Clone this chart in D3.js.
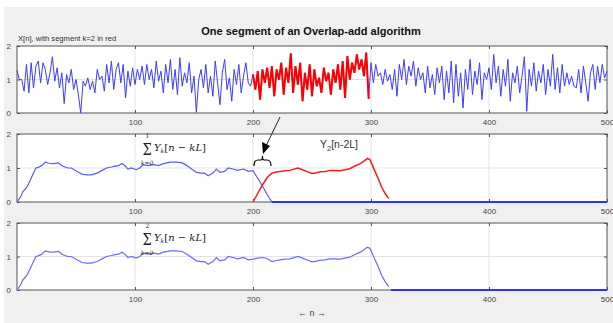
<!DOCTYPE html>
<html>
<head>
<meta charset="utf-8">
<script src="https://cdn.jsdelivr.net/npm/d3@7"></script>
<style>
  body { margin: 0; background: #fff; }
  svg { display: block; font-family: "Liberation Sans", Arial, sans-serif; }
</style>
</head>
<body>
<div id="chart"></div>
<script>
// input signal x[n], sampled every 2nd n (0..500)
const xStep = 2
const xValues = [
  1.28, 1.0, 1.0, 0.65, 1.45, 0.6, 1.5, 0.75, 1.4, 1.55,
  0.9, 1.5, 1.3, 0.85, 1.2, 1.68, 0.95, 1.35, 0.75, 1.2,
  0.28, 1.15, 0.9, 1.3, 0.7, 1.0, 0.55, 0.0, 0.95, 0.8,
  1.05, 0.7, 0.95, 0.6, 1.3, 1.0, 1.1, 0.65, 1.45, 0.9,
  1.55, 0.7, 1.3, 1.5, 0.9, 1.45, 0.45, 1.25, 0.8, 1.35,
  0.85, 1.3, 1.0, 1.4, 0.85, 1.45, 1.0, 1.3, 0.75, 1.55,
  0.95, 1.25, 0.6, 1.45, 0.9, 1.6, 0.7, 1.3, 0.55, 1.65,
  0.8, 1.2, 0.9, 1.5, 0.6, 1.1, 0.02, 1.0, 1.3, 0.75,
  1.45, 0.6, 1.1, 0.5, 1.55, 0.9, 0.25, 1.2, 1.6, 0.7,
  1.05, 0.35, 1.3, 0.85, 1.45, 0.6, 1.1, 1.5, 0.9, 0.8,
  1.15, 0.7, 1.25, 0.4, 1.3, 0.9, 1.35, 0.75, 1.4, 0.5,
  1.3, 1.0, 1.5, 0.55, 1.35, 0.9, 1.78, 0.6, 1.4, 0.85,
  1.5, 0.35, 1.2, 0.7, 1.45, 0.5, 1.3, 0.8, 1.05, 0.6,
  1.35, 0.95, 1.2, 0.55, 1.3, 0.9, 1.45, 0.7, 1.55, 0.45,
  1.7, 1.0, 1.5, 1.2, 1.75, 1.3, 1.6, 1.1, 1.8, 0.42,
  1.5, 0.9, 1.45, 1.1, 1.2, 0.85, 1.3, 0.95, 1.15, 0.7,
  1.3, 0.5, 1.45, 1.0, 1.6, 0.85, 1.4, 1.1, 1.55, 0.8,
  1.35, 1.0, 1.2, 0.6, 1.4, 0.75, 1.15, 0.55, 1.35, 0.9,
  1.4, 0.4, 1.25, 0.6, 1.55, 0.3, 1.45, 0.5, 1.2, 0.15,
  1.3, 0.7, 1.6, 0.55, 1.25, 0.85, 1.5, 0.4, 1.2, 1.0,
  1.35, 0.7, 1.75, 0.9, 1.4, 0.5, 1.3, 0.8, 1.6, 0.35,
  1.2, 0.9, 1.4, 0.6, 1.1, 1.68, 0.05, 1.3, 0.8, 1.5,
  0.65, 1.25, 0.9, 1.45, 0.55, 1.3, 0.8, 1.75, 0.7, 1.35,
  0.6, 1.45, 0.8, 1.2, 0.85, 1.1, 0.8, 0.75, 1.3, 0.6,
  1.4, 0.9, 0.35, 1.2, 1.45, 0.7, 1.4, 0.9, 1.45, 1.05,
  1.25
]
const segStart = 200
const segEnd = 298

// sum of Y_k[n-kL] for k = 0..1
const sum01N = [0, 3, 5, 8, 10, 12, 14, 16, 18, 21, 24, 27, 31, 35, 39, 43, 46, 51, 55, 59,
  63, 68, 72, 76, 80, 82, 86, 89, 92, 94, 97, 101, 104, 107, 111, 116, 120, 124, 130, 135,
  140, 144, 148, 152, 156, 159, 162, 166, 169, 172, 176, 179, 183, 187, 192, 196, 200, 204, 208, 212, 216]
const sum01 = [0, 0.15, 0.3, 0.42, 0.55, 0.7, 0.85, 1.0, 1.02, 1.07, 1.17, 1.14, 1.13, 1.15, 1.05, 1.0, 1.0, 0.9, 0.82, 0.8,
  0.8, 0.85, 0.93, 1.0, 1.03, 1.05, 1.07, 1.13, 1.05, 0.97, 1.0, 0.95, 1.0, 1.1, 1.07, 1.1, 1.07, 1.13, 1.17, 1.17,
  1.15, 1.07, 0.97, 0.87, 0.85, 0.85, 0.77, 0.85, 0.97, 0.87, 0.9, 1.0, 0.97, 0.93, 0.97, 0.9, 0.92, 0.7, 0.47, 0.22, 0]
const tail2N = [216, 500]
const tail2 = [0, 0]

// Y_2[n-2L]
const y2N = [200, 204, 208, 212, 216, 220, 223, 227, 231, 234, 238, 242, 247, 250, 254, 257, 261, 265, 269, 274,
  278, 282, 286, 291, 294, 297, 299, 301, 303, 306, 309, 312, 315]
const y2 = [0, 0.25, 0.5, 0.72, 0.85, 0.88, 0.9, 0.92, 0.93, 0.96, 1.0, 0.95, 0.88, 0.84, 0.86, 0.89, 0.9, 0.93, 0.93, 0.92,
  0.95, 0.98, 1.05, 1.13, 1.2, 1.28, 1.25, 1.1, 0.93, 0.7, 0.44, 0.25, 0.1]

// sum for k = 0..2
const sum012N = sum01N.slice(0, 57).concat([204, 208, 212]).concat(y2N.slice(4))
const sum012 = sum01.slice(0, 57).concat([0.95, 0.97, 0.94]).concat(y2.slice(4))
const tail3N = [317, 500]
const tail3 = [0, 0]

const xTicks = [100, 200, 300, 400, 500]
const yTicks = [0, 1, 2]

const W = 613, H = 323
const svg = d3.select("#chart").append("svg").attr("width", W).attr("height", H)
svg.append("rect").attr("x", 4).attr("y", 7).attr("width", W - 4).attr("height", H - 7).attr("fill", "#f0f0f0")

const x = d3.scaleLinear().domain([0, 500]).range([17, 607])
const panels = [
  { top: 46, bottom: 113 },
  { top: 134, bottom: 202 },
  { top: 223, bottom: 290 }
]
panels.forEach(p => {
  p.y = d3.scaleLinear().domain([0, 2]).range([p.bottom, p.top])
  const g = svg.append("g")
  p.g = g
  g.append("rect").attr("x", x(0)).attr("y", p.top).attr("width", x(500) - x(0)).attr("height", p.bottom - p.top).attr("fill", "#fff")
  // grid
  g.selectAll(".gx").data([100, 200, 300, 400]).enter().append("line")
    .attr("x1", d => x(d)).attr("x2", d => x(d)).attr("y1", p.top).attr("y2", p.bottom)
    .attr("stroke", "#e3e3e3").attr("stroke-width", 1)
  g.append("line").attr("x1", x(0)).attr("x2", x(500)).attr("y1", p.y(1)).attr("y2", p.y(1))
    .attr("stroke", "#e3e3e3").attr("stroke-width", 1)
})

function drawAxes(p) {
  const g = p.g
  const bottom = g.append("g").attr("transform", `translate(0,${p.bottom})`)
    .call(d3.axisBottom(x).tickValues(xTicks).tickSize(-3).tickPadding(6))
  const top = g.append("g").attr("transform", `translate(0,${p.top})`)
    .call(d3.axisTop(x).tickValues(xTicks).tickSize(-3).tickFormat(""))
  const left = g.append("g").attr("transform", `translate(${x(0)},0)`)
    .call(d3.axisLeft(p.y).tickValues(yTicks).tickSize(-3).tickPadding(6).tickFormat(d3.format("d")))
  const right = g.append("g").attr("transform", `translate(${x(500)},0)`)
    .call(d3.axisRight(p.y).tickValues(yTicks).tickSize(-3).tickFormat(""))
  ;[bottom, top, left, right].forEach(a => {
    a.select(".domain").remove()
    a.selectAll("line").attr("stroke", "#555")
    a.selectAll("text").attr("fill", "#444").attr("font-size", 8).attr("font-family", "Liberation Sans, Arial, sans-serif")
  })
  g.append("rect").attr("x", x(0)).attr("y", p.top).attr("width", x(500) - x(0)).attr("height", p.bottom - p.top)
    .attr("fill", "none").attr("stroke", "#555").attr("stroke-width", 1)
}

function lineOf(p, ns, vs) {
  return d3.line().x((d, i) => x(ns[i])).y(d => p.y(d))(vs)
}

// panel 1: input signal
const p1 = panels[0]
const xN = xValues.map((d, i) => i * xStep)
drawAxes(p1)
p1.g.append("path").attr("d", lineOf(p1, xN, xValues))
  .attr("fill", "none").attr("stroke", "#3c3cff").attr("stroke-width", 1)
const segIdx = xN.map((n, i) => i).filter(i => xN[i] >= segStart && xN[i] <= segEnd)
p1.g.append("path").attr("d", lineOf(p1, segIdx.map(i => xN[i]), segIdx.map(i => xValues[i])))
  .attr("fill", "none").attr("stroke", "#ff0000").attr("stroke-width", 2)

// panel 2
const p2 = panels[1]
drawAxes(p2)
p2.g.append("path").attr("d", lineOf(p2, sum01N, sum01))
  .attr("fill", "none").attr("stroke", "#5a5aff").attr("stroke-width", 1.2)
p2.g.append("path").attr("d", lineOf(p2, tail2N, tail2))
  .attr("fill", "none").attr("stroke", "#3030ff").attr("stroke-width", 2)
p2.g.append("path").attr("d", lineOf(p2, y2N, y2))
  .attr("fill", "none").attr("stroke", "#ff1a1a").attr("stroke-width", 1.5)

// panel 3
const p3 = panels[2]
drawAxes(p3)
p3.g.append("path").attr("d", lineOf(p3, sum012N, sum012))
  .attr("fill", "none").attr("stroke", "#6a6aff").attr("stroke-width", 1.2)
p3.g.append("path").attr("d", lineOf(p3, tail3N, tail3))
  .attr("fill", "none").attr("stroke", "#3030ff").attr("stroke-width", 2)

// texts
svg.append("text").attr("x", 311).attr("y", 35).attr("text-anchor", "middle")
  .attr("font-weight", "bold").attr("font-size", 11).attr("fill", "#111")
  .text("One segment of an Overlap-add algorithm")
svg.append("text").attr("x", 18).attr("y", 41).attr("font-size", 7.6).attr("fill", "#333")
  .text("X[n], with segment k=2 in red")
svg.append("text").attr("x", 312).attr("y", 316).attr("text-anchor", "middle").attr("font-size", 9).attr("fill", "#444")
  .text("\u2190  n  \u2192")

function sumLabel(cx, base, upper) {
  const g = svg.append("g").attr("font-family", "DejaVu Serif, Liberation Serif, serif").attr("fill", "#222")
  g.append("text").attr("transform", `translate(${cx},${base + 4}) scale(1,1.3)`)
    .attr("text-anchor", "middle").attr("font-size", 13).text("\u03a3")
  g.append("text").attr("x", cx + 0.5).attr("y", base - 13).attr("text-anchor", "middle").attr("font-size", 6).text(upper)
  g.append("text").attr("x", cx).attr("y", base + 14).attr("text-anchor", "middle").attr("font-size", 6).attr("font-style", "italic").text("k=0")
  const t = g.append("text").attr("x", cx + 7).attr("y", base).attr("font-size", 10)
  t.append("tspan").attr("font-style", "italic").text("Y")
  t.append("tspan").attr("font-style", "italic").attr("font-size", 6).attr("dy", 2).text("k")
  t.append("tspan").attr("dy", -2).text("[")
  t.append("tspan").attr("font-style", "italic").text("n")
  t.append("tspan").text(" \u2212 ")
  t.append("tspan").attr("font-style", "italic").text("kL")
  t.append("tspan").text("]")
}
sumLabel(147, 151, "1")
sumLabel(147, 241, "2")

const yl = svg.append("text").attr("x", 320).attr("y", 148).attr("font-size", 10.5).attr("fill", "#333")
yl.append("tspan").text("Y")
yl.append("tspan").attr("dy", 3).attr("font-size", 7.5).text("2")
yl.append("tspan").attr("dy", -3).text("[n-2L]")

// brace and arrow
svg.append("path")
  .attr("d", "M254,166 Q254,160 258,160 L261,160 Q262.5,160 262.5,156 Q262.5,160 264,160 L267,160 Q271,160 271,166")
  .attr("fill", "none").attr("stroke", "#000").attr("stroke-width", 1.2)
svg.append("line").attr("x1", 280).attr("y1", 117).attr("x2", 266).attr("y2", 146)
  .attr("stroke", "#222").attr("stroke-width", 1)
svg.append("path").attr("d", "M263,154 L262,142 L270,146 Z").attr("fill", "#000")
</script>
</body>
</html>
